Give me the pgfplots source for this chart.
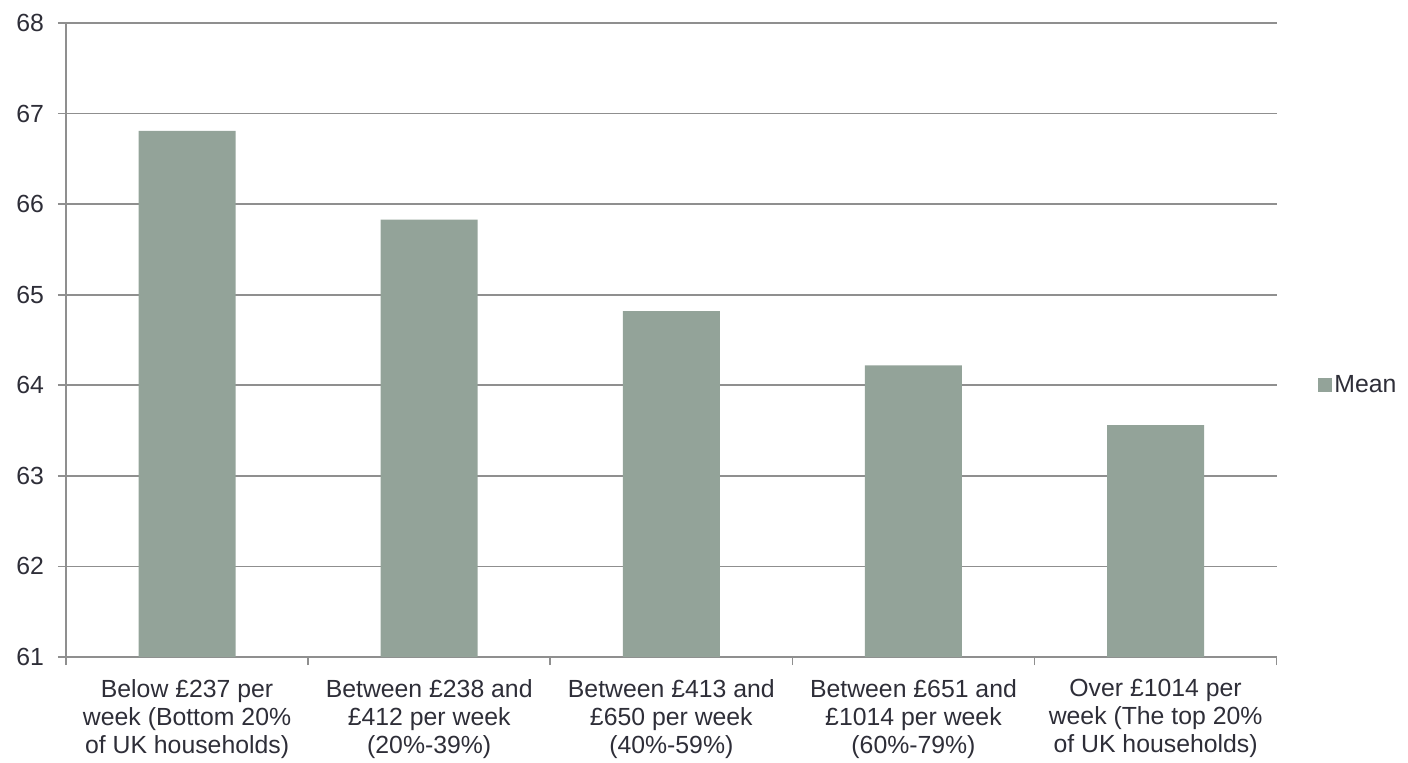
\documentclass[border=0pt]{standalone}
\usepackage{pgfplots}
\pgfplotsset{compat=1.18}
\usepackage{fontspec}
\setmainfont{Liberation Sans}
\definecolor{barcol}{HTML}{93A399}
\definecolor{axcol}{HTML}{8F8F8F}
\definecolor{txtcol}{HTML}{2E2E38}
\begin{document}
\begin{tikzpicture}[x=0.75pt,y=0.75pt]
\begin{axis}[
    at={(0,0)}, anchor=south west,
    scale only axis,
    width=908pt, height=475.5pt,
    ybar, bar width=72.75pt,
    xmin=-0.5, xmax=4.5,
    ymin=61, ymax=68,
    ytick={61,...,68},
    xtick={0,...,4},
    xticklabels={
      {Below £237 per\\week (Bottom 20\%\\of UK households)},
      {Between £238 and\\£412 per week\\(20\%-39\%)},
      {Between £413 and\\£650 per week\\(40\%-59\%)},
      {Between £651 and\\£1014 per week\\(60\%-79\%)},
      {Over £1014 per\\week (The top 20\%\\of UK households)}},
    minor xtick={-0.5,0.5,...,4.5},
    major x tick style={draw=none},
    minor x tick style={axcol, line width=1.2pt},
    minor tick length=6pt,
    major tick length=6pt,
    tick align=outside,
    ytick style={axcol, line width=1.2pt},
    axis x line*=bottom, axis y line*=left,
    axis line style={axcol, line width=1.2pt, -},
    ymajorgrids, grid style={axcol, line width=1.2pt},
    xticklabel style={align=center, font=\fontsize{18.6}{21}\selectfont, text=txtcol, yshift=-7pt},
    yticklabel style={font=\fontsize{18.6}{21}\selectfont, text=txtcol, xshift=-7pt},
    /pgf/number format/assume math mode=true,
    legend style={at={(rel axis cs:1.031,0.429)}, anchor=west, draw=none, fill=none,
      font=\fontsize{18.6}{21}\selectfont, text=txtcol,
      legend cell align=left},
    legend image code/.code={\fill[barcol] (0pt,-5pt) rectangle (10pt,5pt);},
]
\addplot[fill=barcol, draw=none] coordinates {
    (0,66.81)
    (1,65.83)
    (2,64.82)
    (3,64.22)
    (4,63.56)
};
\addlegendentry{Mean}
\end{axis}
\path[use as bounding box] (-66,-104) rectangle (1342,657);
\end{tikzpicture}
\end{document}
